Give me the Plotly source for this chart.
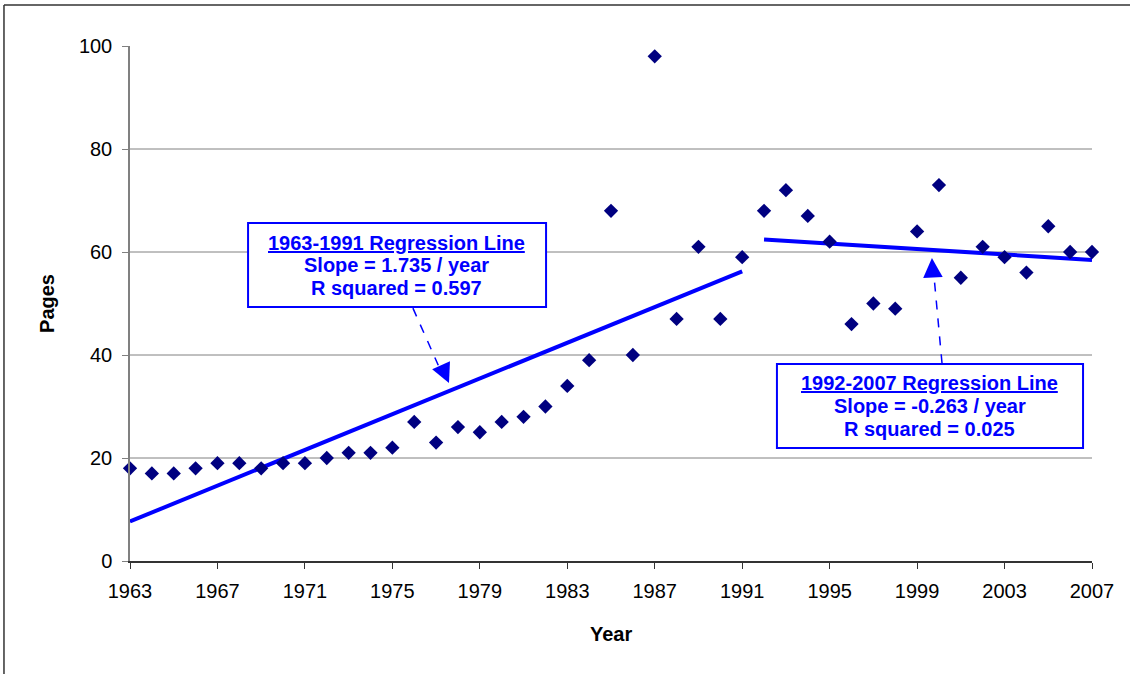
import numpy as np
import plotly.graph_objects as go

# ---- data ----
years = list(range(1963, 2008))
pages = [18, 17, 17, 18, 19, 19, 18, 19, 19, 20, 21, 21, 22, 27, 23, 26, 25, 27, 28, 30,
         34, 39, 68, 40, 98, 47, 61, 47, 59,
         68, 72, 67, 62, 46, 50, 49, 64, 73, 55, 61, 59, 56, 65, 60, 60]
period1 = (1963, 1991)
period2 = (1992, 2007)
x_ticks = list(range(1963, 2008, 4))
y_ticks = [0, 20, 40, 60, 80, 100]
grid_vals = [20, 40, 60, 80]
box1_lines = ["<u>1963-1991 Regression Line</u>", "Slope = 1.735 / year", "R squared = 0.597"]
box2_lines = ["<u>1992-2007 Regression Line</u>", "Slope = -0.263 / year", "R squared = 0.025"]

yrs = np.array(years, dtype=float)
pg = np.array(pages, dtype=float)

def fit(period):
    m = (yrs >= period[0]) & (yrs <= period[1])
    slope, icpt = np.polyfit(yrs[m], pg[m], 1)
    xs = np.array([period[0], period[1]], dtype=float)
    return xs, slope * xs + icpt

NAVY = "#000080"
BLUE = "#0000FF"
FONT = "Liberation Sans, Arial, sans-serif"

fig = go.Figure()
fx1, fy1 = fit(period1)
fx2, fy2 = fit(period2)
for fx, fy in [(fx1, fy1), (fx2, fy2)]:
    fig.add_trace(go.Scatter(x=fx, y=fy, mode="lines", line=dict(color=BLUE, width=4),
                             showlegend=False, hoverinfo="skip", cliponaxis=False))
fig.add_trace(go.Scatter(x=years, y=pages, mode="markers",
                         marker=dict(symbol="diamond", size=11, color=NAVY),
                         showlegend=False, cliponaxis=False))

shapes = []
for g in grid_vals:
    shapes.append(dict(type="line", xref="paper", x0=0, x1=1, yref="y", y0=g, y1=g,
                       line=dict(color="#808080", width=1), layer="below"))
# outer frame (top and left edges)
shapes.append(dict(type="line", xref="paper", yref="paper", x0=-0.131, x1=1.05, y0=1.0796, y1=1.0796,
                   line=dict(color="#333333", width=1.5)))
shapes.append(dict(type="line", xref="paper", yref="paper", x0=-0.131, x1=-0.131, y0=1.0796, y1=-0.25,
                   line=dict(color="#333333", width=1.5)))
# text boxes
shapes.append(dict(type="rect", x0=1968.40, x1=1982.03, y0=49.32, y1=65.63,
                   line=dict(color=BLUE, width=2), fillcolor="white", layer="above"))
shapes.append(dict(type="rect", x0=1992.59, x1=2006.59, y0=21.94, y1=38.25,
                   line=dict(color=BLUE, width=2), fillcolor="white", layer="above"))
# dashed arrow shafts
shapes.append(dict(type="line", x0=1975.94, y0=49.1, x1=1977.1, y1=38.0,
                   line=dict(color=BLUE, width=1.5, dash="dash")))
shapes.append(dict(type="line", x0=2000.14, y0=38.4, x1=1999.78, y1=55.0,
                   line=dict(color=BLUE, width=1.5, dash="dash")))

annotations = []
for lines, xc, ys in [(box1_lines, 1975.21, [61.75, 57.38, 53.01]),
                      (box2_lines, 1999.59, [34.47, 30.10, 25.63])]:
    for t, yy in zip(lines, ys):
        annotations.append(dict(x=xc, y=yy, text="<b>" + t + "</b>", showarrow=False,
                                xanchor="center", yanchor="middle",
                                font=dict(family=FONT, size=20, color=BLUE)))
# arrow heads
annotations.append(dict(x=1977.59, y=34.56, ax=-8, ay=-18, text="", showarrow=True,
                        arrowhead=2, arrowsize=2.6, arrowwidth=1.5, arrowcolor=BLUE))
annotations.append(dict(x=1999.68, y=58.83, ax=1, ay=20, text="", showarrow=True,
                        arrowhead=2, arrowsize=2.6, arrowwidth=1.5, arrowcolor=BLUE))
# axis titles
annotations.append(dict(xref="paper", yref="paper", x=-0.0863, y=0.501, text="<b>Pages</b>",
                        textangle=-90, showarrow=False, xanchor="center", yanchor="middle",
                        font=dict(family=FONT, size=20, color="black")))
annotations.append(dict(xref="paper", yref="paper", x=0.5, y=-0.1417, text="<b>Year</b>",
                        showarrow=False, xanchor="center", yanchor="middle",
                        font=dict(family=FONT, size=20, color="black")))

fig.update_layout(
    width=1130, height=674,
    margin=dict(l=130, r=38, t=46, b=113),
    paper_bgcolor="white", plot_bgcolor="white",
    font=dict(family=FONT, size=20, color="black"),
    shapes=shapes, annotations=annotations,
    xaxis=dict(range=[1963, 2007], tickvals=x_ticks, showgrid=False, zeroline=False,
               showline=True, linecolor="#333333", linewidth=1.5,
               ticks="outside", ticklen=6, tickcolor="#333333", ticklabelstandoff=5,
               tickfont=dict(family=FONT, size=20, color="black")),
    yaxis=dict(range=[0, 100], tickvals=y_ticks, showgrid=False, zeroline=False,
               showline=True, linecolor="#808080", linewidth=1.5,
               ticks="outside", ticklen=6, tickcolor="#808080", ticklabelstandoff=6,
               tickfont=dict(family=FONT, size=20, color="black")),
)

fig.write_html("out.html", config={"displayModeBar": False},
               post_script="document.body.style.margin='0';document.body.style.overflow='hidden';")
